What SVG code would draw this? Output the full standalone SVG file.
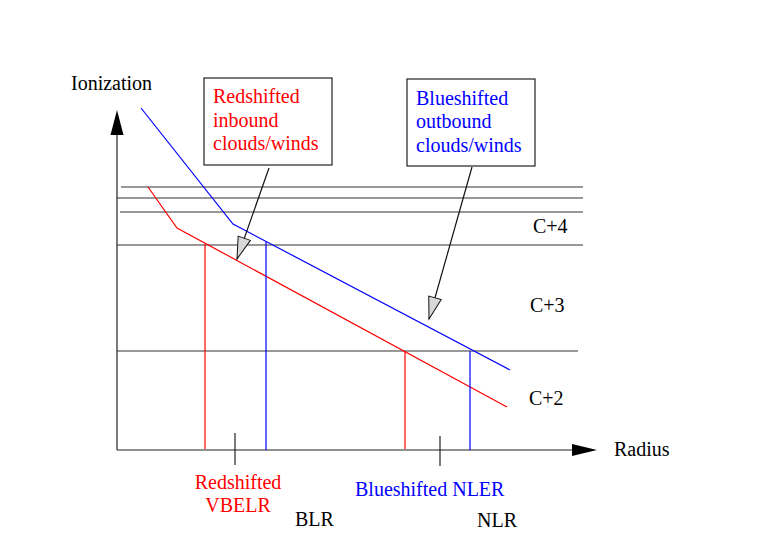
<svg xmlns="http://www.w3.org/2000/svg" width="765" height="554" viewBox="0 0 765 554">
<style>
.k{fill:#000}.r{fill:#ff0000}.b{fill:#0000ff}
.ax{stroke:#222;stroke-width:1.2;fill:none}
.hl{stroke:#333;stroke-width:1.2;fill:none}
.rl{stroke:#ff0000;stroke-width:1.2;fill:none}
.bl{stroke:#0000ff;stroke-width:1.2;fill:none}
.box{fill:#fff;stroke:#222;stroke-width:1.2}
.pt{stroke:#111;stroke-width:1.2;fill:none}
</style>
<defs>
<marker id="ah" markerUnits="userSpaceOnUse" markerWidth="26" markerHeight="18" refX="23" refY="8" orient="auto">
<path d="M1,1.5 L23,8 L1,14.5 z" fill="#d8d8d8" stroke="#111" stroke-width="1"/>
</marker>
</defs>
<rect width="765" height="554" fill="#fff"/>
<g font-family="'Liberation Serif', 'DejaVu Serif', serif" font-size="20">
<g id="axes">
<line class="ax" x1="117" y1="450" x2="117" y2="130"/>
<polygon points="117,110 110.5,135 123.5,135" fill="#000"/>
<line class="ax" x1="117" y1="450" x2="575" y2="450"/>
<polygon points="597,450 572,444 572,456" fill="#000"/>
<line class="ax" x1="235" y1="433" x2="235" y2="465"/>
<line class="ax" x1="440" y1="436" x2="440" y2="466"/>
<text class="k" x="71" y="90">Ionization</text>
<text class="k" x="614" y="456">Radius</text>
</g>
<g id="levels">
<line class="hl" x1="121" y1="187" x2="583" y2="187"/>
<line class="hl" x1="117" y1="198" x2="583" y2="198"/>
<line class="hl" x1="120" y1="212" x2="583" y2="212"/>
<line class="hl" x1="117" y1="245" x2="583" y2="245"/>
<line class="hl" x1="117" y1="351" x2="578" y2="351"/>
<text class="k" x="533" y="233">C+4</text>
<text class="k" x="530" y="312">C+3</text>
<text class="k" x="529" y="405">C+2</text>
</g>
<g id="curves">
<polyline class="bl" points="141,108 233,224 510,370"/>
<polyline class="rl" points="148,187 177,228 507,407"/>
<line class="rl" x1="205" y1="244" x2="205" y2="449"/>
<line class="bl" x1="266" y1="242" x2="266" y2="450"/>
<line class="rl" x1="405" y1="351" x2="405" y2="449"/>
<line class="bl" x1="470" y1="351" x2="470" y2="450"/>
</g>
<g id="box-red">
<rect class="box" x="204" y="78" width="128" height="87"/>
<text class="r" x="213" y="103">Redshifted</text>
<text class="r" x="213" y="127">inbound</text>
<text class="r" x="213" y="150">clouds/winds</text>
</g>
<g id="box-blue">
<rect class="box" x="407" y="79" width="128" height="87"/>
<text class="b" x="416" y="105">Blueshifted</text>
<text class="b" x="416" y="128">outbound</text>
<text class="b" x="416" y="152">clouds/winds</text>
</g>
<g id="connectors">
<line class="pt" x1="269" y1="168" x2="237" y2="259" marker-end="url(#ah)"/>
<line class="pt" x1="472" y1="167" x2="429" y2="319" marker-end="url(#ah)"/>
</g>
<g id="labels">
<text class="r" x="238" y="489" text-anchor="middle">Redshifted</text>
<text class="r" x="238" y="512" text-anchor="middle">VBELR</text>
<text class="b" x="355" y="496">Blueshifted NLER</text>
<text class="k" x="295" y="526">BLR</text>
<text class="k" x="477" y="527">NLR</text>
</g>
</g>
</svg>
